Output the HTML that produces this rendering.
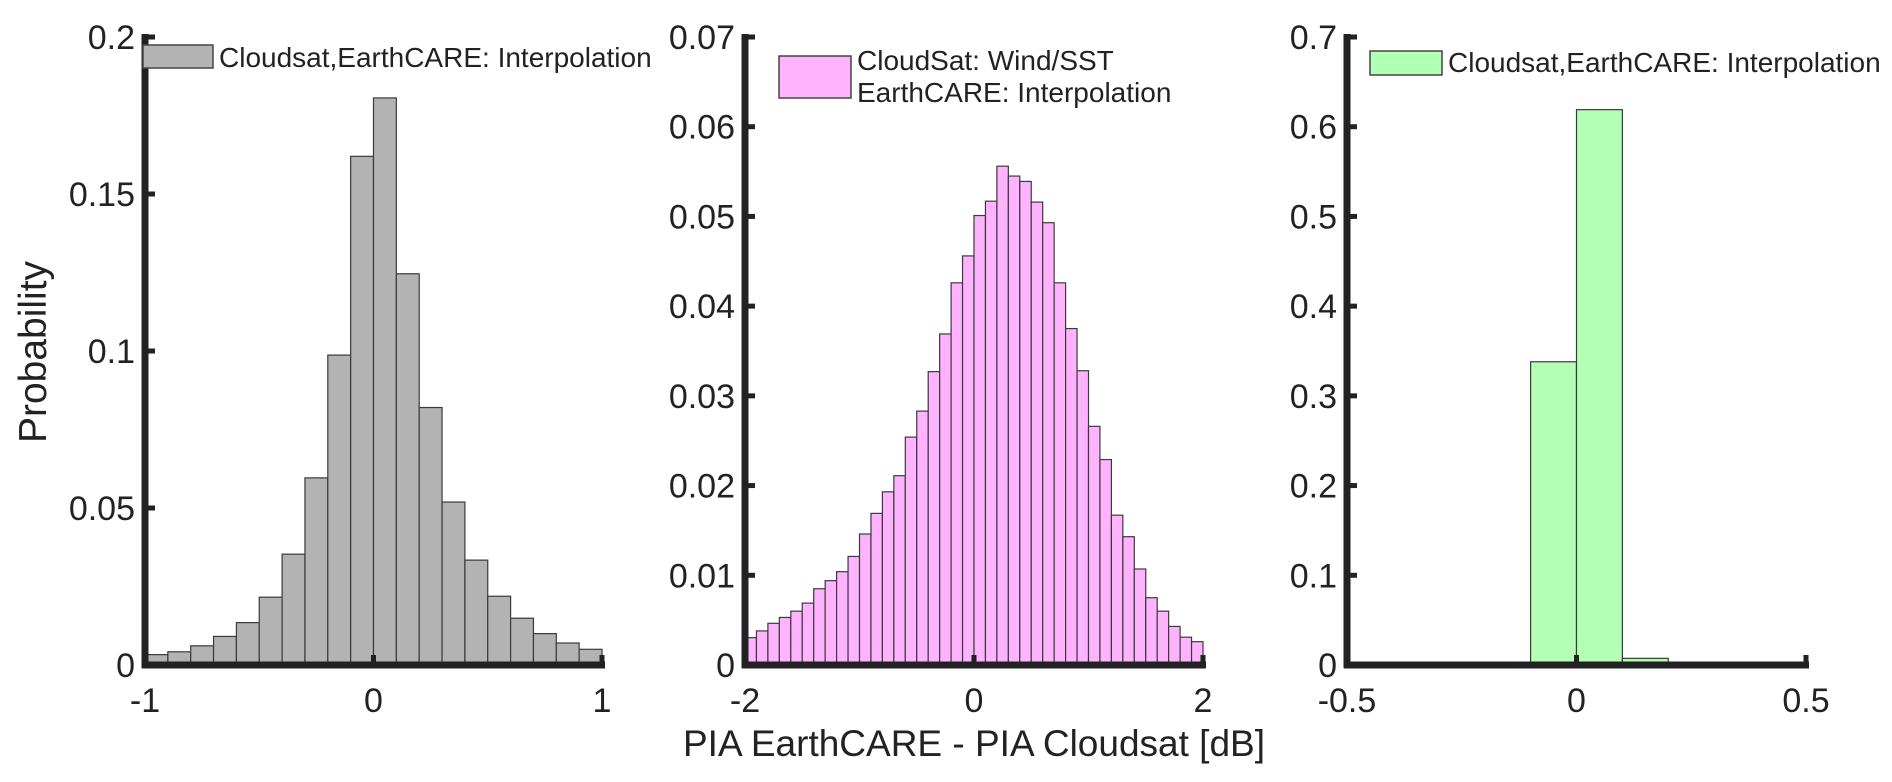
<!DOCTYPE html>
<html><head><meta charset="utf-8"><style>
html,body{margin:0;padding:0;background:#fff;}
svg{display:block;font-family:"Liberation Sans",Arial,sans-serif;}
</style></head><body>
<svg id="chart" width="1892" height="782" viewBox="0 0 1892 782" xmlns="http://www.w3.org/2000/svg">
<text x="0" y="0" transform="translate(46,352) rotate(-90)" text-anchor="middle" font-size="39" fill="#222">Probability</text>
<text x="974" y="756" text-anchor="middle" font-size="37" fill="#222">PIA EarthCARE - PIA Cloudsat [dB]</text>
</svg>
<script>
// Panel 1 data (bin width 0.1, -1..1)
const p1Edges = [-1, 1];
const p1Values = [0.0033,0.0042,0.0061,0.0091,0.0135,0.0216,0.0353,0.0596,0.0987,0.162,0.1806,0.1246,0.082,0.0519,0.0334,0.0219,0.0149,0.010,0.007,0.005];
const p1YTicks = [0,0.05,0.1,0.15,0.2];
const p1YLabels = ["0","0.05","0.1","0.15","0.2"];
const p1XTicks = [-1,0,1];
const p1XLabels = ["-1","0","1"];
// Panel 2 data (bin width 0.1, -2..2)
const p2Edges = [-2, 2];
const p2Values = [0.00305,0.0038,0.00465,0.0053,0.006,0.0069,0.0085,0.0094,0.0104,0.0121,0.0146,0.0169,0.0193,0.0211,0.0254,0.0283,0.0327,0.0369,0.0426,0.0456,0.0501,0.0517,0.0556,0.0545,0.0539,0.0516,0.0493,0.0426,0.0375,0.0328,0.0266,0.0229,0.0167,0.0143,0.0107,0.0075,0.006,0.0043,0.0031,0.0026];
const p2YTicks = [0,0.01,0.02,0.03,0.04,0.05,0.06,0.07];
const p2YLabels = ["0","0.01","0.02","0.03","0.04","0.05","0.06","0.07"];
const p2XTicks = [-2,0,2];
const p2XLabels = ["-2","0","2"];
// Panel 3 data (bin width 0.1, -0.5..0.5)
const p3Edges = [-0.5, 0.5];
const p3Values = [0.0003,0.0003,0.0008,0.0002,0.338,0.619,0.0074,0.0022,0.001,0.0003];
const p3YTicks = [0,0.1,0.2,0.3,0.4,0.5,0.6,0.7];
const p3YLabels = ["0","0.1","0.2","0.3","0.4","0.5","0.6","0.7"];
const p3XTicks = [-0.5,0,0.5];
const p3XLabels = ["-0.5","0","0.5"];

const NS = "http://www.w3.org/2000/svg";
const svg = document.getElementById('chart');
function mk(tag, attrs, parent){
  const e = document.createElementNS(NS, tag);
  for (const k in attrs) e.setAttribute(k, attrs[k]);
  (parent||svg).appendChild(e);
  return e;
}
const Y0 = 665, YTOP = 37;

function panel(id, px0, px1, edges, values, yMax, yTicks, yLabels, xTicks, xLabels, fill, legendLines, leg){
  const g = mk('g', {});
  
  
  const xs = v => px0 + (v - edges[0]) / (edges[1] - edges[0]) * (px1 - px0);
  const ys = v => Y0 - v / yMax * (Y0 - YTOP);
  const bw = (edges[1] - edges[0]) / values.length;
  values.forEach((v, i) => {
    const x0 = xs(edges[0] + i * bw), x1 = xs(edges[0] + (i + 1) * bw);
    const r = mk('rect', {x: x0, y: ys(v), width: x1 - x0, height: Y0 - ys(v), fill: fill, stroke: '#3a3a3a', 'stroke-width': 1.2}, g);
    
    
  });
  const ya = mk('line', {x1: px0, y1: YTOP - 3, x2: px0, y2: Y0 + 3, stroke: '#222', 'stroke-width': 7}, g);
  
  
  const xa = mk('line', {x1: px0 - 3, y1: Y0, x2: px1 + 3, y2: Y0, stroke: '#222', 'stroke-width': 7}, g);
  
  
  yTicks.forEach((t, i) => {
    const y = ys(t);
    mk('line', {x1: px0, y1: y, x2: px0 + 10, y2: y, stroke: '#222', 'stroke-width': 5}, g);
    const tx = mk('text', {x: px0 - 10, y: y + 12, 'text-anchor': 'end', 'font-size': 34, fill: '#222'}, g);
    tx.textContent = yLabels[i];
    
    
  });
  xTicks.forEach((t, i) => {
    const x = xs(t);
    mk('line', {x1: x, y1: Y0, x2: x, y2: Y0 - 10, stroke: '#222', 'stroke-width': 5}, g);
    const tx = mk('text', {x: x, y: 712, 'text-anchor': 'middle', 'font-size': 34, fill: '#222'}, g);
    tx.textContent = xLabels[i];
    
    
  });
  const lg = mk('g', {}, g);
  
  
  mk('rect', {x: leg.x, y: leg.y, width: leg.w, height: leg.h, fill: fill, stroke: '#444', 'stroke-width': 1.5}, lg);
  legendLines.forEach((s, i) => {
    const tx = mk('text', {x: leg.x + leg.w + 6, y: leg.ty + i * 32, 'font-size': 28, fill: '#222'}, lg);
    tx.textContent = s;
    
    
  });
}

panel('interp-gray', 145, 602, p1Edges, p1Values, 0.2, p1YTicks, p1YLabels, p1XTicks, p1XLabels, '#b3b3b3',
  ['Cloudsat,EarthCARE: Interpolation'], {x: 143, y: 45, w: 70, h: 23, ty: 67});
panel('wind-sst-pink', 745, 1203, p2Edges, p2Values, 0.07, p2YTicks, p2YLabels, p2XTicks, p2XLabels, '#ffb3ff',
  ['CloudSat: Wind/SST', 'EarthCARE: Interpolation'], {x: 779, y: 56, w: 72, h: 42, ty: 70});
panel('interp-green', 1347, 1806, p3Edges, p3Values, 0.7, p3YTicks, p3YLabels, p3XTicks, p3XLabels, '#b3ffb3',
  ['Cloudsat,EarthCARE: Interpolation'], {x: 1370, y: 51, w: 72, h: 24, ty: 72});
</script>
</body></html>
